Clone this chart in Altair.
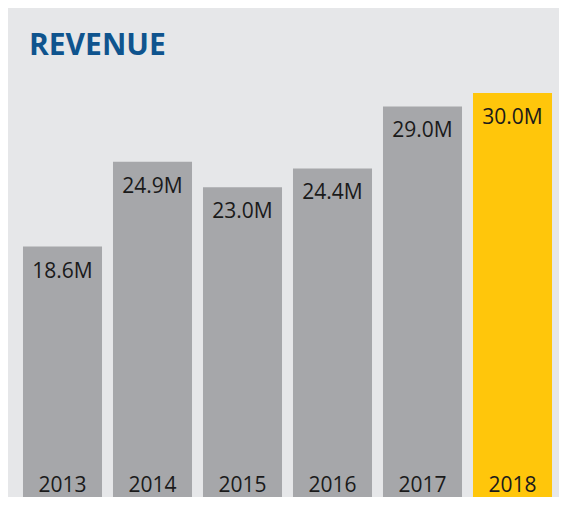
import altair as alt
import pandas as pd

years = ["2013", "2014", "2015", "2016", "2017", "2018"]
values = [18.6, 24.9, 23.0, 24.4, 29.0, 30.0]
labels = ["18.6M", "24.9M", "23.0M", "24.4M", "29.0M", "30.0M"]
highlight = ["no", "no", "no", "no", "no", "yes"]
title_text = ["REVENUE"]

df = pd.DataFrame({"year": years, "value": values, "label": labels, "hl": highlight})
tdf = pd.DataFrame({"t": title_text})

FONT = "Open Sans"

x = alt.X("year:N", sort=years, axis=None,
          scale=alt.Scale(paddingInner=0.122, paddingOuter=0.061, range=[9.5, 549.5]))
y = alt.Y("value:Q", axis=None, scale=alt.Scale(domain=[0, 36.31], nice=False, zero=True))

bars = alt.Chart(df).mark_bar().encode(
    x=x, y=y,
    color=alt.Color("hl:N", legend=None,
                    scale=alt.Scale(domain=["no", "yes"], range=["#a6a7aa", "#ffc60b"])),
)

vals = alt.Chart(df).mark_text(baseline="alphabetic", dy=31, fontSize=21, font=FONT,
                               color="#1a1a1a").encode(x=x, y=y, text="label:N")

yrs = alt.Chart(df).mark_text(baseline="alphabetic", dy=-5, fontSize=21, font=FONT,
                              color="#1a1a1a").encode(x=x, y=alt.datum(0), text="year:N")

title = alt.Chart(tdf).mark_text(align="left", baseline="alphabetic", fontSize=30, font=FONT,
                                 fontWeight="bold", color="#0f548e").encode(
    x=alt.value(21), y=alt.value(47), text="t:N")

chart = alt.layer(bars, vals, yrs, title).properties(
    width=551, height=489,
    padding=0,
    autosize=alt.AutoSizeParams(type="none"),
    background="#e6e7e9",
).configure_view(stroke=None)

chart.save("out.html", embed_options={"renderer": "svg", "actions": False})
